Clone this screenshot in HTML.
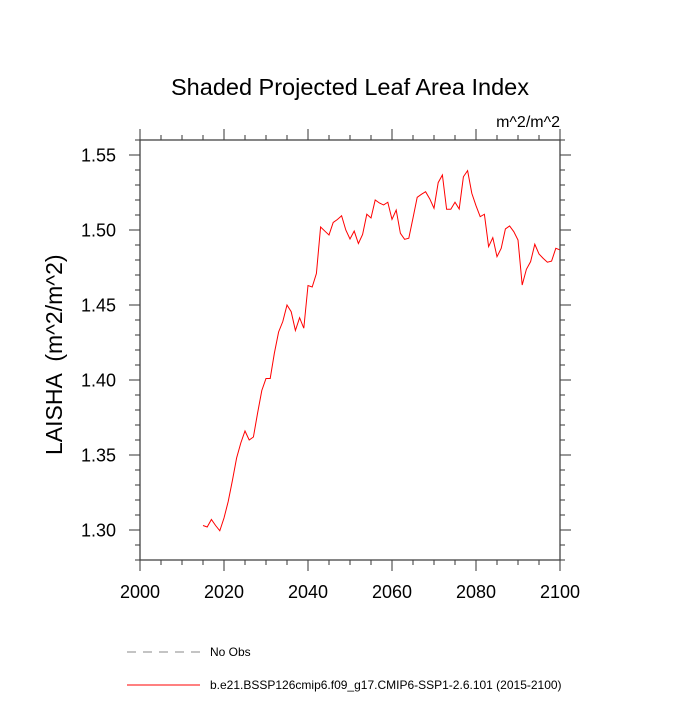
<!DOCTYPE html>
<html><head><meta charset="utf-8"><style>
body{margin:0;background:#fff;}
svg text{font-family:"Liberation Sans",sans-serif;fill:#000;}
</style></head><body>
<svg id="chart" width="700" height="700" viewBox="0 0 700 700" xmlns="http://www.w3.org/2000/svg">
<text x="350" y="95" font-size="23.5" text-anchor="middle">Shaded Projected Leaf Area Index</text>
<text x="560" y="127" font-size="16" text-anchor="end">m^2/m^2</text>
<text transform="translate(62,455) rotate(-90)" font-size="23" text-anchor="start" style="white-space:pre">LAISHA  (m^2/m^2)</text>
<g id="axes"></g>
<polyline id="series" fill="none" stroke="#ff0000" stroke-width="1"/>
<rect x="140" y="140" width="420" height="420" fill="none" stroke="#444" stroke-width="1.3"/>
<g>
<line x1="127" y1="652" x2="200" y2="652" stroke="#888" stroke-dasharray="9,7"/>
<text x="210" y="656" font-size="12">No Obs</text>
<line x1="127" y1="685" x2="200" y2="685" stroke="#ff0000"/>
<text x="210" y="689" font-size="12">b.e21.BSSP126cmip6.f09_g17.CMIP6-SSP1-2.6.101 (2015-2100)</text>
</g>
</svg>
<script>
const years = [];
for (let y = 2015; y <= 2100; y++) years.push(y);
const values = [1.303,1.302,1.307,1.303,1.2995,1.308,1.319,1.333,1.348,1.358,1.366,1.360,1.362,1.378,1.393,1.401,1.401,1.418,1.432,1.439,1.450,1.4455,1.433,1.4415,1.4345,1.463,1.462,1.471,1.502,1.4993,1.4967,1.505,1.507,1.5095,1.500,1.494,1.4993,1.491,1.497,1.5105,1.508,1.520,1.518,1.5167,1.5185,1.5071,1.5133,1.4978,1.4938,1.4945,1.508,1.5218,1.5238,1.5255,1.5207,1.5145,1.5316,1.5367,1.5138,1.5138,1.5185,1.514,1.5355,1.5396,1.5245,1.5162,1.5089,1.5105,1.4889,1.4949,1.4822,1.4878,1.5007,1.5027,1.4989,1.4933,1.4633,1.4738,1.4789,1.4905,1.484,1.4811,1.4785,1.4793,1.4878,1.4867];
const xTicks = [2000,2020,2040,2060,2080,2100];
const yTicks = [1.30,1.35,1.40,1.45,1.50,1.55];
const xMin=2000,xMax=2100,yMin=1.28,yMax=1.56;
const L=140,R=560,T=140,B=560;
const sx=v=>L+(v-xMin)/(xMax-xMin)*(R-L);
const sy=v=>B-(v-yMin)/(yMax-yMin)*(B-T);
const NS="http://www.w3.org/2000/svg";
const g=document.getElementById('axes');
function ln(x1,y1,x2,y2,name){const l=document.createElementNS(NS,'line');
l.setAttribute('x1',x1);l.setAttribute('y1',y1);l.setAttribute('x2',x2);l.setAttribute('y2',y2);
l.setAttribute('stroke','#555');l.setAttribute('stroke-width','1.2');


g.appendChild(l);}
function tx(x,y,s,anchor,name){const t=document.createElementNS(NS,'text');
t.setAttribute('x',x);t.setAttribute('y',y);t.setAttribute('font-size','18');t.setAttribute('text-anchor',anchor);t.textContent=s;


g.appendChild(t);}
for(let v=xMin;v<=xMax;v+=5){const x=sx(v);const major=xTicks.includes(v);const len=major?11:5;
ln(x,B,x,B+len,'x-tick');ln(x,T,x,T-len,'x-tick-top');}
xTicks.forEach(v=>tx(sx(v),B+38,String(v),'middle','x-tick-label'));
for(let i=0;i<=28;i++){const v=yMin+i*0.01;const x=+v.toFixed(2);const major=yTicks.some(t=>Math.abs(t-x)<1e-6);const len=major?11:5;const y=sy(x);
ln(L,y,L-len,y,'y-tick');ln(R,y,R+len,y,'y-tick-right');}
yTicks.forEach(v=>tx(L-24,sy(v)+6.5,v.toFixed(2),'end','y-tick-label'));
document.getElementById('series').setAttribute('points',years.map((y,i)=>sx(y)+','+sy(values[i])).join(' '));
</script>
</body></html>
